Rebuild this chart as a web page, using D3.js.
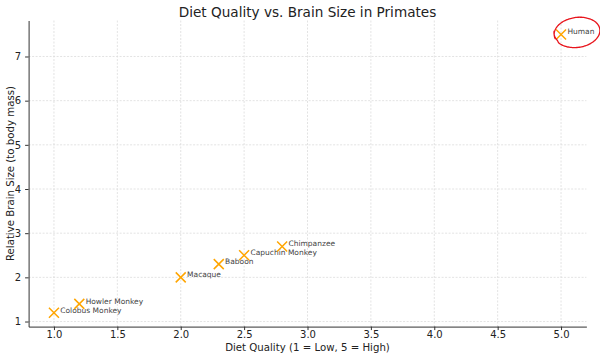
<!DOCTYPE html>
<html><head><meta charset="utf-8">
<script src="https://cdn.jsdelivr.net/npm/d3@7"></script>
<style>body{margin:0;background:#fff}svg{display:block;font-family:"DejaVu Sans",sans-serif}</style>
</head><body><svg id="c" width="600" height="359"></svg>
<script>
const names = ["Colobus Monkey","Howler Monkey","Macaque","Baboon","Capuchin Monkey","Chimpanzee","Human"];
const dietQuality = [1.0,1.2,2.0,2.3,2.5,2.8,5.0];
const brainSize = [1.2,1.4,2.0,2.3,2.5,2.7,7.5];
const xTicks = [1.0,1.5,2.0,2.5,3.0,3.5,4.0,4.5,5.0];
const yTicks = [1,2,3,4,5,6,7];

const svg = d3.select("#c");
const L=28.6,R=586.4,T=20.5,B=326.6;
const x = d3.scaleLinear().domain([0.8,5.2]).range([L,R]);
const y = d3.scaleLinear().domain([0.885,7.815]).range([B,T]);

// grid
svg.append("g").selectAll("line").data(xTicks).join("line")
 .attr("x1",d=>x(d)).attr("x2",d=>x(d)).attr("y1",T).attr("y2",B)
 .attr("stroke","#dcdcdc").attr("stroke-width",0.8).attr("stroke-dasharray","2,1.5");
svg.append("g").selectAll("line").data(yTicks).join("line")
 .attr("y1",d=>y(d)).attr("y2",d=>y(d)).attr("x1",L).attr("x2",R)
 .attr("stroke","#dcdcdc").attr("stroke-width",0.8).attr("stroke-dasharray","2,1.5");

// axes
const xa = svg.append("g").attr("transform",`translate(0,${B})`)
 .call(d3.axisBottom(x).tickValues(xTicks).tickFormat(d3.format(".1f")).tickSize(3.5).tickSizeOuter(0));
const ya = svg.append("g").attr("transform",`translate(${L},0)`)
 .call(d3.axisLeft(y).tickValues(yTicks).tickFormat(d3.format("d")).tickSize(3.5).tickSizeOuter(0));
[xa,ya].forEach(a=>{
 a.select(".domain").attr("stroke","#333").attr("stroke-width",1);
 a.selectAll(".tick line").attr("stroke","#333");
 a.selectAll(".tick text").attr("fill","#222").style("font-size","10px").style("font-family","DejaVu Sans");
});
xa.selectAll(".tick text").attr("dy","0.45em");
ya.selectAll(".tick text").attr("dx","-1");

// markers
const data = names.map((n,i)=>({n,x:dietQuality[i],y:brainSize[i]}));
const s=5;
const g = svg.append("g");
data.forEach(d=>{
 const cx=x(d.x), cy=y(d.y);
 g.append("path").attr("d",`M${cx-s},${cy-s}L${cx+s},${cy+s}M${cx-s},${cy+s}L${cx+s},${cy-s}`)
  .attr("stroke","#FFA500").attr("stroke-width",1.5).attr("fill","none");
 g.append("text").attr("x",x(d.x+0.05)).attr("y",cy).text(d.n)
  .attr("fill","#444").style("font-size","7.5px");
});

// red hand-drawn circle around Human
const hx = x(dietQuality[6])+16, hy = y(brainSize[6])-2;
const pts=[];
for(let a=0;a<=2*Math.PI*1.08;a+=0.05){
 pts.push([hx+23*Math.cos(a+2.9), hy+15*Math.sin(a+2.9)-(a>6?1.5:0)]);
}
svg.append("path").attr("d",d3.line().curve(d3.curveBasis)(pts))
 .attr("transform",`rotate(-8,${hx},${hy})`)
 .attr("stroke","#e8141c").attr("stroke-width",1.3).attr("fill","none");

// labels
svg.append("text").attr("x",(L+R)/2).attr("y",17).attr("text-anchor","middle")
 .style("font-size","13.6px").attr("fill","#222").text("Diet Quality vs. Brain Size in Primates");
svg.append("text").attr("x",(L+R)/2).attr("y",351).attr("text-anchor","middle")
 .style("font-size","10.2px").attr("fill","#222").text("Diet Quality (1 = Low, 5 = High)");
svg.append("text").attr("transform",`translate(14,${(T+B)/2}) rotate(-90)`).attr("text-anchor","middle")
 .style("font-size","10.2px").attr("fill","#222").text("Relative Brain Size (to body mass)");
</script></body></html>
